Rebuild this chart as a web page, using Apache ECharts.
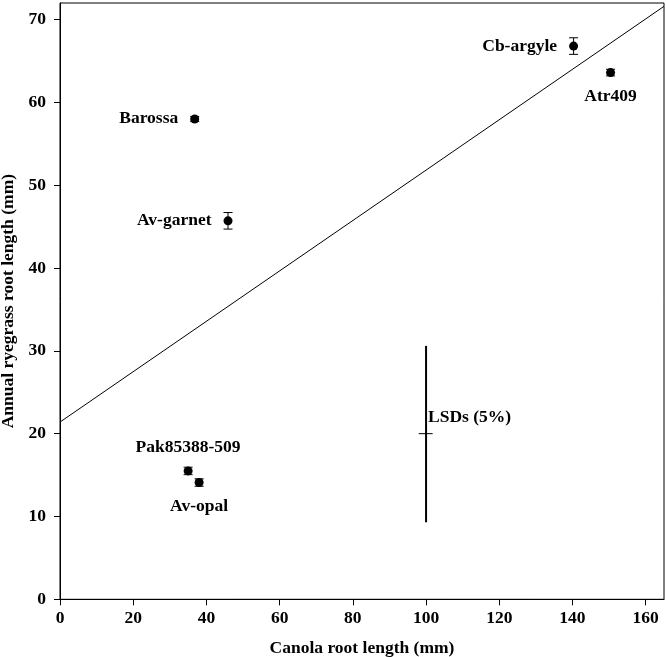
<!DOCTYPE html>
<html><head><meta charset="utf-8">
<script src="https://cdn.jsdelivr.net/npm/echarts@6/dist/echarts.min.js"></script>
<style>html,body{margin:0;padding:0;background:#fff}#c{width:666px;height:657px}</style>
</head><body><div id="c"></div>
<script>
var names = ['Barossa','Av-garnet','Cb-argyle','Atr409','Pak85388-509','Av-opal'];
var canola = [36.8, 45.9, 140.3, 150.4, 35.0, 38.0];
var ryegrass = [58.0, 45.7, 66.8, 63.6, 15.5, 14.1];
var errors = [0.3, 1.0, 1.0, 0.4, 0.45, 0.45];
var labelPos = ['left','left','left','bottom','top','bottom'];
var fitLine = [[0, 21.4], [165, 71.6]];
var lsdX = 100, lsdY = 20, lsdYLow = 9.3, lsdYHigh = 30.6, lsdXLow = 98, lsdXHigh = 101.8;
var lsdLabel = 'LSDs (5%)';
var xTicks = [0,20,40,60,80,100,120,140,160];
var yTicks = [0,10,20,30,40,50,60,70];

var font = 'Liberation Serif';
var fs = 17.5;
var chart = echarts.init(document.getElementById('c'));
var pts = names.map(function(n,i){
  return {name:n, value:[canola[i], ryegrass[i], errors[i]],
    label:{show:true, formatter:n, position:labelPos[i], distance: labelPos[i]==='left'?12:10}};
});
chart.setOption({
  animation:false,
  grid:{left:60, right:2, top:3, bottom:57.7, show:true, borderColor:'#000', borderWidth:1,
    containLabel:false, outerBoundsMode:'none'},
  xAxis:{type:'value', min:0, max:165, interval:20,
    name:'Canola root length (mm)', nameLocation:'middle', nameGap:40,
    nameTextStyle:{fontFamily:font, fontWeight:'bold', fontSize:fs, color:'#000'},
    axisLine:{show:true, lineStyle:{color:'#000', width:1}},
    axisTick:{show:true, length:6, lineStyle:{color:'#000'}},
    axisLabel:{fontFamily:font, fontWeight:'bold', fontSize:fs, color:'#000', margin:10,
      showMaxLabel:false,
      formatter:function(v){return xTicks.indexOf(v)>=0? String(v):'';}},
    splitLine:{show:false}},
  yAxis:{type:'value', min:0, max:72, interval:10,
    name:'Annual ryegrass root length (mm)', nameLocation:'middle', nameGap:40,
    nameTextStyle:{fontFamily:font, fontWeight:'bold', fontSize:fs, color:'#000'},
    axisLine:{show:true, lineStyle:{color:'#000', width:1}},
    axisTick:{show:true, length:6, lineStyle:{color:'#000'}},
    axisLabel:{fontFamily:font, fontWeight:'bold', fontSize:fs, color:'#000', margin:14,
      showMaxLabel:false,
      formatter:function(v){return yTicks.indexOf(v)>=0? String(v):'';}},
    splitLine:{show:false}},
  series:[
    {type:'line', data:fitLine, symbol:'none', lineStyle:{color:'#000', width:1}, z:1},
    {type:'custom', data:pts.map(function(p){return p.value;}), z:2,
      renderItem:function(params, api){
        var x=api.value(0), y=api.value(1), e=api.value(2);
        var top=api.coord([x,y+e]), bot=api.coord([x,y-e]);
        var hw=4.5;
        return {type:'group', children:[
          {type:'line', shape:{x1:top[0],y1:top[1],x2:bot[0],y2:bot[1]}, style:{stroke:'#000',lineWidth:1}},
          {type:'line', shape:{x1:top[0]-hw,y1:top[1],x2:top[0]+hw,y2:top[1]}, style:{stroke:'#000',lineWidth:1}},
          {type:'line', shape:{x1:bot[0]-hw,y1:bot[1],x2:bot[0]+hw,y2:bot[1]}, style:{stroke:'#000',lineWidth:1}}
        ]};
      }},
    {type:'scatter', data:pts, symbol:'circle', symbolSize:9, itemStyle:{color:'#000', opacity:1}, z:3,
      label:{fontFamily:font, fontWeight:'bold', fontSize:fs, color:'#000'}},
    {type:'custom', data:[[lsdX, lsdY, lsdYLow, lsdYHigh, lsdXLow, lsdXHigh]], z:2,
      renderItem:function(params, api){
        var x=api.value(0), y=api.value(1);
        var lo=api.coord([x, api.value(2)]), hi=api.coord([x, api.value(3)]);
        var l=api.coord([api.value(4), y]), r=api.coord([api.value(5), y]);
        var lab=api.coord([x, y+2]);
        return {type:'group', children:[
          {type:'line', shape:{x1:lo[0],y1:lo[1],x2:hi[0],y2:hi[1]}, style:{stroke:'#000',lineWidth:2}},
          {type:'line', shape:{x1:l[0],y1:l[1],x2:r[0],y2:r[1]}, style:{stroke:'#000',lineWidth:1}},
          {type:'text', style:{text:lsdLabel, x:lab[0]+2, y:lab[1], textAlign:'left', textVerticalAlign:'middle',
            font:'bold 17.5px "Liberation Serif"', fill:'#000'}}
        ]};
      }}
  ]
});
</script></body></html>
